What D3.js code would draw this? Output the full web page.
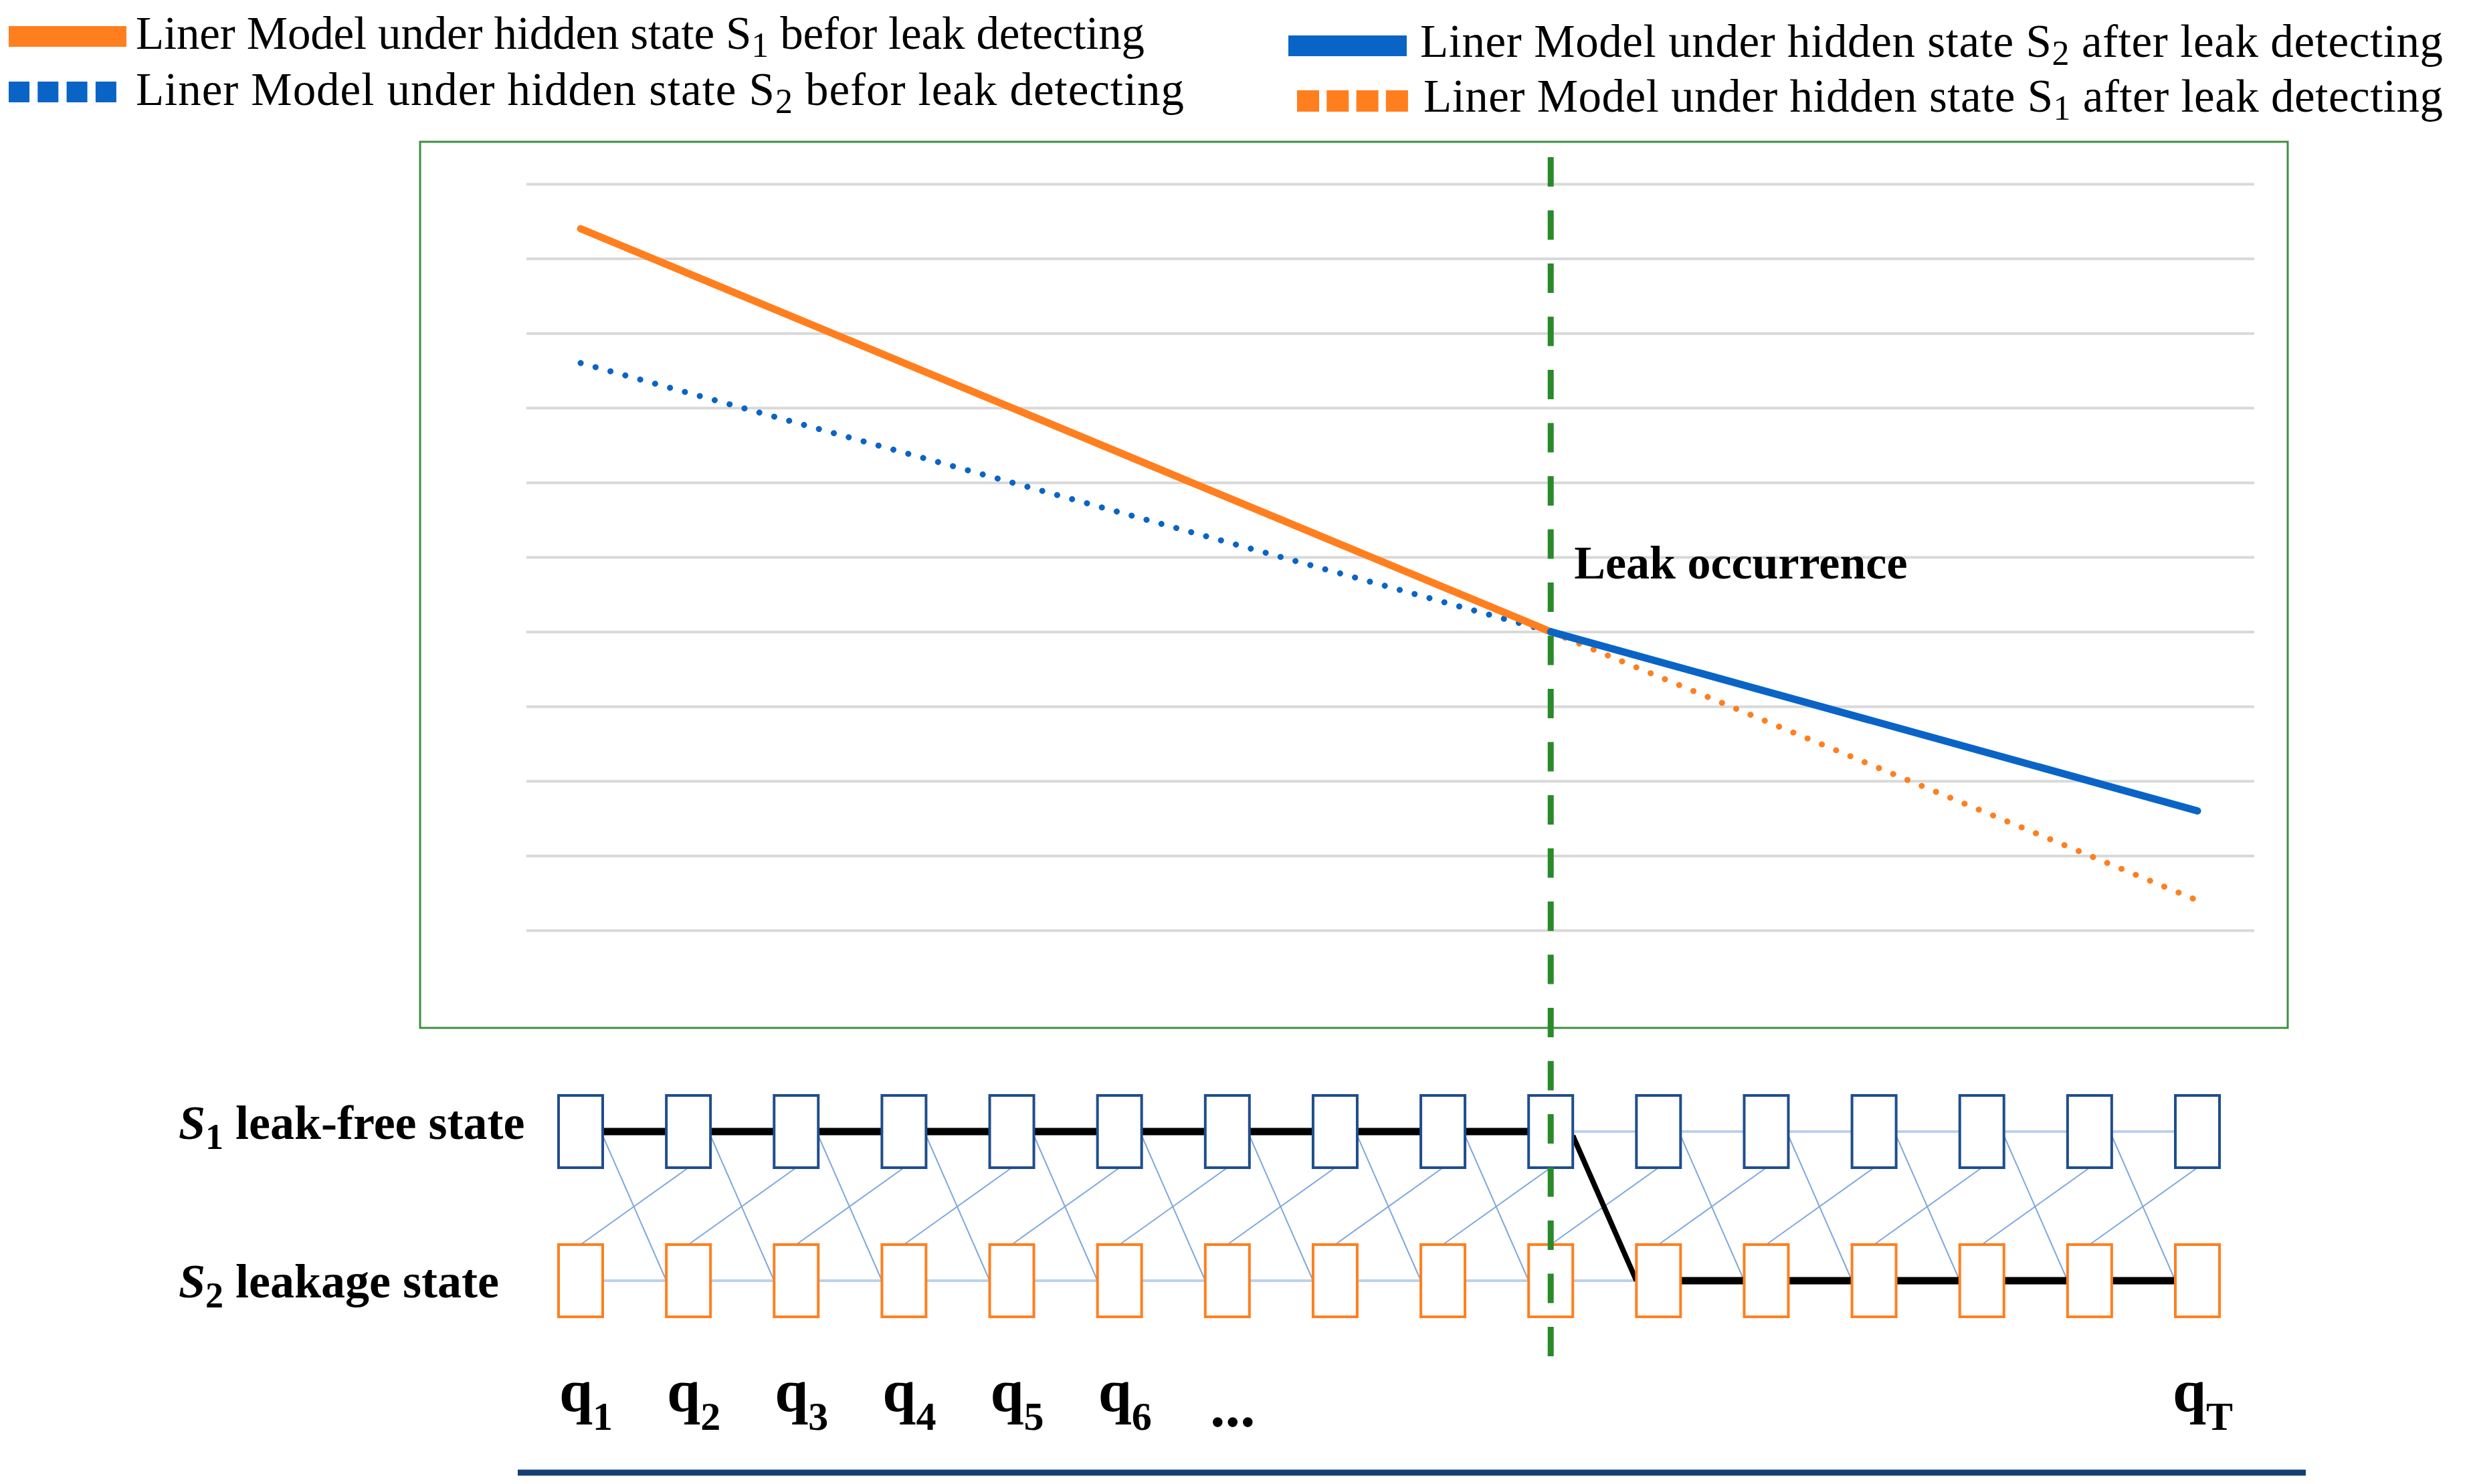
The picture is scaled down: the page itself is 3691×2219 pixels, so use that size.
<!DOCTYPE html>
<html>
<head>
<meta charset="utf-8">
<script src="https://cdn.jsdelivr.net/npm/d3@7"></script>
<style>
  html, body { margin: 0; padding: 0; background: #fff; }
  svg text { font-family: "Liberation Serif", "Times New Roman", serif; }
</style>
</head>
<body>
<div id="chart_area"></div>
<script>
// ---- data ----
// time steps of the hidden chain, leak happens at step 10
var steps = d3.range(1, 17);
var leakStep = 10;

// linear models as [step, value]
var s1Before = [[1, 9.4], [10, 4.0]];
var s2Before = [[1, 7.6], [10, 4.0]];
var s2After = [[10, 4.0], [16, 1.6]];
var s1After = [[10, 4.0], [16, 0.4]];

// horizontal grid values (no tick labels in the figure)
var gridValues = d3.range(0, 11);

// hidden states and the decoded path
var states = ["S1", "S2"];
var statePath = ["S1", "S1", "S1", "S1", "S1", "S1", "S1", "S1", "S1", "S1",
                 "S2", "S2", "S2", "S2", "S2", "S2"];
var stateNames = [
  {state: "S1", sub: "1", text: " leak-free state"},
  {state: "S2", sub: "2", text: " leakage state"}
];

// step labels under the chain
var stepLabels = [
  {step: 1, base: "q", sub: "1"},
  {step: 2, base: "q", sub: "2"},
  {step: 3, base: "q", sub: "3"},
  {step: 4, base: "q", sub: "4"},
  {step: 5, base: "q", sub: "5"},
  {step: 6, base: "q", sub: "6"},
  {step: 7, base: "...", sub: ""},
  {step: 16, base: "q", sub: "T"}
];

// legend texts
var legendLabels = [
  {pre: "Liner Model under hidden state S", sub: "1", post: " befor leak detecting"},
  {pre: "Liner Model under hidden state S", sub: "2", post: " befor leak detecting"},
  {pre: "Liner Model under hidden state S", sub: "2", post: " after leak detecting"},
  {pre: "Liner Model under hidden state S", sub: "1", post: " after leak detecting"}
];

// ---- styles ----
var orange = "#ff7f1f";
var blue = "#0a64c6";
var boxBlue = "#1f4e8c";
var green = "#2a8a2a";

var series = [
  {data: s2Before, color: blue, width: 9, dots: true},
  {data: s1Before, color: orange, width: 11, dots: false},
  {data: s1After, color: orange, width: 9, dots: true},
  {data: s2After, color: blue, width: 11, dots: false}
];

// legend layout (same order as legendLabels)
var legendLayout = [
  {x0: 13, x1: 189, cy: 54.5, h: 31, color: orange, dash: null, tx: 203, ty: 73, len: 1508},
  {x0: 13, x1: 174, cy: 137.5, h: 31, color: blue, dash: "31 12.3", tx: 203, ty: 157, len: 1567},
  {x0: 1926, x1: 2103, cy: 68.5, h: 31, color: blue, dash: null, tx: 2123, ty: 85, len: 1529},
  {x0: 1939, x1: 2105, cy: 151, h: 32, color: orange, dash: "33 11.3", tx: 2128, ty: 167, len: 1524}
];

// ---- frame ----
var svg = d3.select("#chart_area").append("svg")
  .attr("width", 3691)
  .attr("height", 2219)
  .style("background", "#fff");

var x = d3.scaleLinear().domain([1, 16]).range([868, 3285]);
var y = d3.scaleLinear().domain([0, 10]).range([1391, 275]);

// legend
legendLayout.forEach(function(l, i) {
  svg.append("line")
    .attr("x1", l.x0).attr("x2", l.x1)
    .attr("y1", l.cy).attr("y2", l.cy)
    .attr("stroke", l.color)
    .attr("stroke-width", l.h)
    .attr("stroke-dasharray", l.dash);

  var t = svg.append("text")
    .attr("x", l.tx).attr("y", l.ty)
    .attr("font-size", 69)
    .attr("textLength", l.len)
    .attr("lengthAdjust", "spacing");
  t.append("tspan").text(legendLabels[i].pre);
  t.append("tspan").attr("font-size", 52).attr("dy", 12).text(legendLabels[i].sub);
  t.append("tspan").attr("dy", -12).text(legendLabels[i].post);
});

// plot border
svg.append("rect")
  .attr("x", 628).attr("y", 212)
  .attr("width", 3420 - 628).attr("height", 1537 - 212)
  .attr("fill", "none")
  .attr("stroke", "#3f8f3f")
  .attr("stroke-width", 3);

// gridlines
var grid = svg.append("g")
  .attr("transform", "translate(787,0)")
  .call(d3.axisLeft(y).tickValues(gridValues).tickSize(-(3370 - 787)).tickFormat(""));
grid.select(".domain").remove();
grid.selectAll(".tick line").attr("stroke", "#d9d9d9").attr("stroke-width", 4);

// model lines
var line = d3.line().x(function(d) { return x(d[0]); }).y(function(d) { return y(d[1]); });
svg.selectAll(".model")
  .data(series)
  .enter().append("path")
  .attr("class", "model")
  .attr("d", function(d) { return line(d.data); })
  .attr("fill", "none")
  .attr("stroke", function(d) { return d.color; })
  .attr("stroke-width", function(d) { return d.width; })
  .attr("stroke-linecap", "round")
  .attr("stroke-dasharray", function(d) { return d.dots ? "0.1 23" : null; });

// label at the leak point
svg.append("text")
  .attr("x", x(leakStep) + 35)
  .attr("y", y(4.0) - 80)
  .attr("font-size", 70)
  .attr("font-weight", "bold")
  .text("Leak occurrence");

// ---- hidden state chain ----
var boxW = 66, boxH = 108;
var rowY = d3.scalePoint().domain(states).range([1692, 1915]);
var labelY = d3.scalePoint().domain(states).range([1703, 1940]);

var chain = svg.append("g");
var links = [];
steps.slice(0, -1).forEach(function(t, i) {
  var a = statePath[i], b = statePath[i + 1];
  states.forEach(function(s) {
    links.push({
      x1: x(t) + boxW / 2, y1: rowY(s),
      x2: x(t + 1) - boxW / 2, y2: rowY(s),
      onPath: a === s && b === s, self: true
    });
  });
  links.push({
    x1: x(t) + boxW / 2, y1: rowY("S1") + 6,
    x2: x(t + 1) - boxW / 2, y2: rowY("S2"),
    onPath: a === "S1" && b === "S2", self: false
  });
  links.push({
    x1: x(t), y1: rowY("S2") - boxH / 2,
    x2: x(t + 1), y2: rowY("S1") + boxH / 2,
    onPath: a === "S2" && b === "S1", self: false
  });
});

chain.selectAll(".link")
  .data(links.filter(function(d) { return !d.onPath; }))
  .enter().append("line")
  .attr("class", "link")
  .attr("x1", function(d) { return d.x1; }).attr("y1", function(d) { return d.y1; })
  .attr("x2", function(d) { return d.x2; }).attr("y2", function(d) { return d.y2; })
  .attr("stroke", function(d) { return d.self ? "#bcd0ec" : "#7fa8dd"; })
  .attr("stroke-width", function(d) { return d.self ? 4 : 2; });

chain.selectAll(".path")
  .data(links.filter(function(d) { return d.onPath; }))
  .enter().append("line")
  .attr("class", "path")
  .attr("x1", function(d) { return d.x1; }).attr("y1", function(d) { return d.y1; })
  .attr("x2", function(d) { return d.x2; }).attr("y2", function(d) { return d.y2; })
  .attr("stroke", "#000")
  .attr("stroke-width", function(d) { return d.self ? 11 : 8; });

var cells = [];
steps.forEach(function(t) {
  states.forEach(function(s) { cells.push({step: t, state: s}); });
});
chain.selectAll(".box")
  .data(cells)
  .enter().append("rect")
  .attr("class", "box")
  .attr("x", function(d) { return x(d.step) - boxW / 2; })
  .attr("y", function(d) { return rowY(d.state) - boxH / 2; })
  .attr("width", boxW)
  .attr("height", boxH)
  .attr("fill", "#fff")
  .attr("stroke", function(d) { return d.state === "S1" ? boxBlue : orange; })
  .attr("stroke-width", 4);

// state names
stateNames.forEach(function(d) {
  var t = svg.append("text")
    .attr("x", 267).attr("y", labelY(d.state))
    .attr("font-size", 72)
    .attr("font-weight", "bold");
  t.append("tspan").attr("font-style", "italic").text("S");
  t.append("tspan").attr("font-size", 54).attr("dy", 15).text(d.sub);
  t.append("tspan").attr("dy", -15).text(d.text);
});

// leak line
svg.append("line")
  .attr("x1", x(leakStep)).attr("x2", x(leakStep))
  .attr("y1", 235).attr("y2", 2030)
  .attr("stroke", green)
  .attr("stroke-width", 9)
  .attr("stroke-dasharray", "44 35.5");

// step labels
svg.selectAll(".qlabel")
  .data(stepLabels)
  .enter().append("text")
  .attr("class", "qlabel")
  .attr("x", function(d) { return x(d.step) + 8; })
  .attr("y", 2111)
  .attr("text-anchor", "middle")
  .attr("font-size", 90)
  .attr("font-weight", "bold")
  .each(function(d) {
    var t = d3.select(this);
    t.append("tspan").attr("dy", d.sub ? 0 : 22).text(d.base);
    if (d.sub) t.append("tspan").attr("font-size", 60).attr("dy", 27).text(d.sub);
  });

// bottom rule
svg.append("line")
  .attr("x1", 774).attr("x2", 3447)
  .attr("y1", 2202).attr("y2", 2202)
  .attr("stroke", "#123f75")
  .attr("stroke-width", 9);
</script>
</body>
</html>
